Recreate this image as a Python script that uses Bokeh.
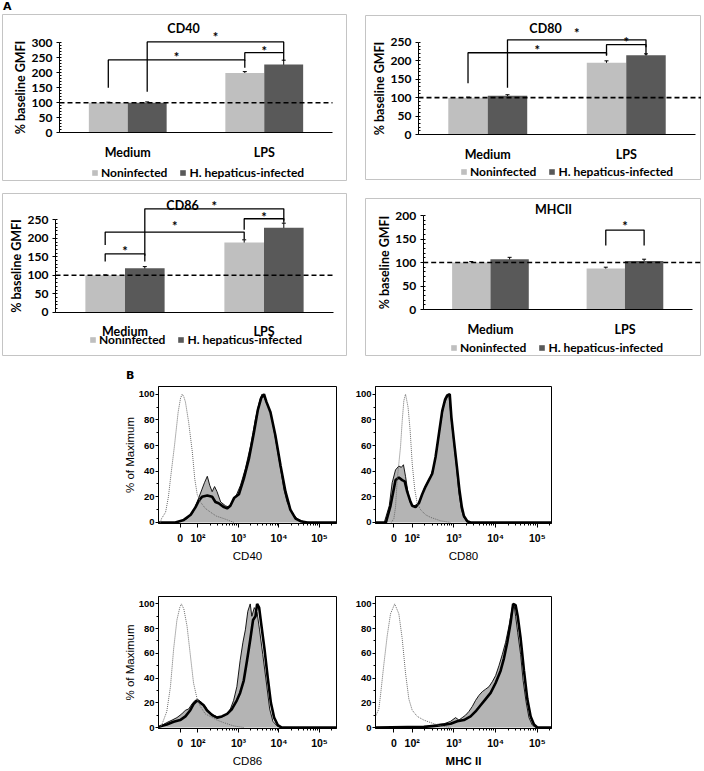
from bokeh.plotting import figure
from bokeh.models import (Range1d, LinearAxis, FixedTicker, Legend, LegendItem, Label,
                          Whisker, TeeHead, ColumnDataSource, Div, Spacer)
from bokeh.layouts import column, row
from bokeh.embed import file_html
from bokeh.resources import INLINE
from bokeh.core.properties import value
import math

# ---------------- Panel A data ----------------
GROUPS = ["Medium", "LPS"]
SERIES = ["Noninfected", "H. hepaticus-infected"]
BASELINE = 100

cd40_non = [100, 199]
cd40_inf = [100, 228]
cd40_non_err = [2, 5]
cd40_inf_err = [3, 14]

cd80_non = [100, 195]
cd80_inf = [105, 215]
cd80_non_err = [1.5, 5]
cd80_inf_err = [3, 4]

cd86_non = [100, 189]
cd86_inf = [119, 229]
cd86_non_err = [1, 7]
cd86_inf_err = [4.5, 12]

mhc_non = [100, 87]
mhc_inf = [107, 103]
mhc_non_err = [2, 3]
mhc_inf_err = [4, 4]

# significance brackets: (bar_from, bar_to, left_foot, top, right_foot, star_y)
# bar index: 0 Medium-non, 1 Medium-inf, 2 LPS-non, 3 LPS-inf
cd40_brackets = [(0, 2, 150, 243, 217, 263), (1, 3, 137, 303, 267, 330), (2, 3, 240, 267, 240, 284)]
cd80_brackets = [(0, 2, 139, 222, 214, 238), (1, 3, 127, 257, 237, 284), (2, 3, 216, 244, 216, 258)]
cd86_brackets = [(0, 1, 137, 158, 137, 174), (0, 2, 182, 217, 197, 242),
                 (1, 3, 153, 280, 248, 296), (2, 3, 223, 253, 242, 265)]
mhc_brackets = [(2, 3, 136, 169, 136, 185)]

# ---------------- Panel B data (x in display decades: 10^k at k, "0" at ZERO) ----------------
ZERO = 1.56
HIST_TICK_LABELS = ["0", "10\u00b2", "10\u00b3", "10\u2074", "10\u2075"]

cd40_iso_x = [1.07, 1.1, 1.2, 1.27, 1.32, 1.42, 1.51, 1.57, 1.61, 1.65, 1.69, 1.77, 1.86, 1.92, 1.98, 2.06, 2.18, 2.31, 2.45, 2.64, 2.89]
cd40_iso_y = [0, 3, 8, 20, 34, 60, 86, 97, 100, 98, 94, 78, 55, 34, 22, 16, 11, 8, 5, 3, 0]
cd40_non_x = [1.45, 1.53, 1.73, 1.86, 1.98, 2.1, 2.16, 2.23, 2.29, 2.35, 2.41, 2.47, 2.56, 2.68, 2.76, 2.84, 2.93, 3.05, 3.17, 3.3,
              3.42, 3.53, 3.58, 3.64, 3.71, 3.79, 3.87, 3.96, 4.04, 4.12, 4.2, 4.33, 4.45, 4.61, 4.75]
cd40_non_y = [0, 0.5, 3, 7, 16, 26, 31, 36, 29, 24, 28, 24, 16, 13, 12, 16, 20, 29, 42, 60,
              81, 96, 100, 97, 92, 86, 73, 57, 42, 26, 16, 7, 3, 0.5, 0]
cd40_inf_x = [1.44, 1.65, 1.82, 1.94, 2.02, 2.1, 2.23, 2.35, 2.43, 2.51, 2.64, 2.72, 2.8, 2.89, 3.01, 3.13, 3.26, 3.38, 3.48, 3.56,
              3.63, 3.69, 3.79, 3.91, 4.04, 4.16, 4.28, 4.41, 4.53, 4.7]
cd40_inf_y = [0, 2, 6, 12, 17, 20, 21, 20, 16, 15, 12, 11, 13, 19, 22, 34, 50, 70, 88, 97,
              100, 94, 86, 68, 44, 24, 10, 3, 1, 0]

cd80_iso_x = [1.5, 1.56, 1.6, 1.64, 1.72, 1.76, 1.8, 1.84, 1.9, 1.95, 2.0, 2.06, 2.12, 2.2, 2.32, 2.44, 2.68, 2.92]
cd80_iso_y = [0, 3, 12, 33, 59, 79, 95, 100, 90, 72, 46, 26, 15, 10, 6, 4, 1.3, 0]
cd80_non_x = [1.33, 1.45, 1.52, 1.6, 1.68, 1.74, 1.79, 1.84, 1.9, 1.96, 2.04, 2.12, 2.2, 2.28, 2.36, 2.44, 2.52, 2.6, 2.68, 2.76,
              2.83, 2.88, 2.94, 3.0, 3.07, 3.12, 3.18, 3.24, 3.32, 3.4]
cd80_non_y = [0, 13, 31, 41, 44, 43, 45, 36, 23, 15, 13, 14, 18, 26, 31, 36, 44, 59, 77, 92,
              97, 100, 79, 62, 41, 23, 10, 4, 0.5, 0]
cd80_inf_x = [1.37, 1.48, 1.6, 1.68, 1.76, 1.82, 1.88, 1.95, 2.0, 2.08, 2.16, 2.24, 2.32, 2.4, 2.48, 2.56, 2.64, 2.72, 2.79, 2.84,
              2.9, 2.94, 3.0, 3.07, 3.13, 3.19, 3.24, 3.32, 3.4]
cd80_inf_y = [0, 13, 33, 35, 33, 32, 24, 17, 13, 12, 15, 22, 28, 33, 38, 51, 69, 87, 96, 99,
              100, 82, 64, 44, 26, 12, 5, 1, 0]

cd86_iso_x = [1.06, 1.11, 1.23, 1.32, 1.4, 1.48, 1.55, 1.59, 1.65, 1.73, 1.81, 1.89, 1.98, 2.06, 2.18, 2.3, 2.47, 2.63, 2.88, 3.13]
cd86_iso_y = [0, 2.5, 13, 33, 64, 87, 97, 100, 96, 82, 59, 36, 23, 17, 11, 9, 6, 4, 1.3, 0]
cd86_non_x = [1.07, 1.23, 1.36, 1.48, 1.6, 1.69, 1.77, 1.85, 1.93, 2.02, 2.1, 2.18, 2.26, 2.39, 2.51, 2.63, 2.72, 2.8, 2.88, 2.96,
              3.04, 3.11, 3.17, 3.23, 3.29, 3.33, 3.39, 3.46, 3.52, 3.6, 3.69, 3.77, 3.85, 3.95, 4.03]
cd86_non_y = [1, 4, 6, 8, 11, 14, 15, 19, 22, 22, 20, 17, 13, 10, 8, 9, 11, 15, 22, 33,
              54, 69, 79, 94, 100, 90, 97, 93, 79, 59, 36, 15, 5, 1.3, 0]
cd86_inf_x = [1.07, 1.23, 1.4, 1.56, 1.69, 1.81, 1.89, 1.98, 2.06, 2.14, 2.22, 2.35, 2.47, 2.59, 2.72, 2.84, 2.96, 3.04, 3.13, 3.21,
              3.29, 3.36, 3.42, 3.46, 3.51, 3.56, 3.64, 3.72, 3.8, 3.88, 3.97, 4.07]
cd86_inf_y = [1, 2.5, 4.6, 6, 9, 14, 19, 22, 20, 18, 14, 10, 8, 9, 11, 15, 22, 28, 38, 54,
              71, 87, 90, 100, 97, 84, 64, 41, 20, 8, 2, 0]

mhc_iso_x = [1.12, 1.2, 1.24, 1.32, 1.4, 1.48, 1.58, 1.68, 1.76, 1.84, 1.92, 2.0, 2.12, 2.28, 2.44, 2.68, 2.92]
mhc_iso_y = [9, 15, 26, 51, 74, 92, 100, 92, 72, 44, 23, 14, 9, 6, 4, 1.3, 0]
mhc_non_x = [2.28, 2.44, 2.6, 2.76, 2.92, 3.04, 3.12, 3.2, 3.28, 3.36, 3.44, 3.52, 3.6, 3.68, 3.76, 3.84, 3.92, 4.0, 4.08, 4.16,
             4.24, 4.32, 4.4, 4.44, 4.48, 4.53, 4.6, 4.66, 4.73, 4.8, 4.88, 4.96]
mhc_non_y = [0.5, 1, 2.5, 3, 5, 8, 6, 8, 10, 13, 17, 22, 26, 29, 31, 33, 37, 42, 50, 59,
             69, 82, 97, 100, 90, 77, 59, 38, 21, 8, 2, 0]
mhc_inf_x = [2.28, 2.6, 2.92, 3.08, 3.24, 3.4, 3.52, 3.64, 3.76, 3.88, 4.0, 4.12, 4.2, 4.28, 4.36, 4.42, 4.48, 4.53, 4.6, 4.68,
             4.76, 4.84, 4.92, 5.0]
mhc_inf_y = [0.5, 1.5, 3, 5, 6, 9, 13, 18, 23, 28, 36, 46, 56, 69, 85, 100, 99, 90, 72, 46,
             23, 9, 2.5, 0]

# ---------------- styles ----------------
FONT_A = "Lato"
FONT_B = "Liberation Sans"
LIGHT = "#bfbfbf"
DARK = "#595959"
BOX = "#c4c4c4"
HISTGRAY = "#b4b4b4"
INK = "black"


def bar_panel(title, non, inf, non_err, inf_err, ymax, brackets,
              W, H, axis_px, plot_px, y0_px, ppu, title_px, legend_loc, dash_edge):
    ppx = plot_px / 2.0
    x0 = 0.5 - axis_px / ppx
    x1 = x0 + W / ppx
    y_hi = y0_px / ppu
    y_lo = -(H - y0_px) / ppu
    p = figure(width=W, height=H, x_range=Range1d(x0, x1), y_range=Range1d(y_lo, y_hi),
               min_border=0, title=None, toolbar_location=None, output_backend="svg",
               x_axis_location=None, y_axis_location=None)
    p.grid.visible = False
    p.outline_line_color = BOX
    p.outline_line_width = 1
    p.background_fill_color = "white"
    p.border_fill_color = "white"

    cats = [1, 2]
    bw = 0.285
    xn = [c - bw / 2 for c in cats]
    xi = [c + bw / 2 for c in cats]
    rn = p.vbar(x=xn, top=non, width=bw, fill_color=LIGHT, line_color=None)
    ri = p.vbar(x=xi, top=inf, width=bw, fill_color=DARK, line_color=None)

    dash_end = x1 if dash_edge else 2.5
    p.segment(x0=[0.5], y0=[BASELINE], x1=[dash_end], y1=[BASELINE],
              line_color=INK, line_width=1.6, line_dash="5 3")

    src = ColumnDataSource(dict(x=xn + xi,
                                up=[v + e for v, e in zip(non + inf, non_err + inf_err)],
                                lo=[v - e for v, e in zip(non + inf, non_err + inf_err)]))
    p.add_layout(Whisker(source=src, base="x", upper="up", lower="lo",
                         line_color=INK, line_width=1,
                         upper_head=TeeHead(size=4, line_width=1, line_color=INK),
                         lower_head=TeeHead(size=4, line_width=1, line_color=INK)))

    centers = [xn[0], xi[0], xn[1], xi[1]]
    xs, ys, sx, sy = [], [], [], []
    for i, j, lf, top, rf, star in brackets:
        xa, xb = centers[i], centers[j]
        xs.append([xa, xa, xb, xb])
        ys.append([lf, top, top, rf])
        sx.append((xa + xb) / 2)
        sy.append(star)
    p.multi_line(xs, ys, line_color=INK, line_width=1.3)
    p.text(sx, sy, text=["*"] * len(sx), text_align="center", text_baseline="middle",
           text_font=value(FONT_A), text_font_size="13px", text_font_style="bold",
           text_color=INK, y_offset=3)

    yaxis = LinearAxis(fixed_location=0.5, bounds=(0, ymax),
                       ticker=FixedTicker(ticks=list(range(0, ymax + 1, 50)),
                                          minor_ticks=list(range(0, ymax + 1, 10))),
                       axis_label="% baseline GMFI",
                       axis_label_text_font=FONT_A, axis_label_text_font_style="bold",
                       axis_label_text_font_size="12.5px", axis_label_standoff=1,
                       axis_label_text_color=INK,
                       major_label_text_font=FONT_A, major_label_text_font_style="bold",
                       major_label_text_font_size="12px", major_label_standoff=4,
                       major_label_text_color=INK,
                       major_tick_out=3, major_tick_in=0, minor_tick_out=0, minor_tick_in=2,
                       axis_line_color=INK, major_tick_line_color=INK,
                       minor_tick_line_color=INK)
    p.add_layout(yaxis, "left")
    xaxis = LinearAxis(fixed_location=0, bounds=(0.5, 2.5),
                       ticker=FixedTicker(ticks=cats, minor_ticks=[]),
                       major_label_overrides={1: GROUPS[0], 2: GROUPS[1]},
                       major_label_text_font=FONT_A, major_label_text_font_style="bold",
                       major_label_text_font_size="12.5px", major_label_standoff=12,
                       major_label_text_color=INK,
                       major_tick_out=0, major_tick_in=0, minor_tick_out=0, minor_tick_in=0,
                       axis_line_color=INK)
    p.add_layout(xaxis, "below")

    p.add_layout(Label(x=x0 + title_px[0] / ppx, y=(y0_px - title_px[1]) / ppu,
                       text=title, text_align="center", text_baseline="middle",
                       text_font=FONT_A, text_font_style="bold", text_font_size="12.5px",
                       text_color=INK))

    leg = Legend(items=[LegendItem(label=SERIES[0], renderers=[rn]),
                        LegendItem(label=SERIES[1], renderers=[ri])],
                 location=legend_loc, orientation="horizontal",
                 glyph_width=7, glyph_height=7, label_standoff=3, spacing=12,
                 padding=0, margin=0, border_line_color=None, background_fill_alpha=0,
                 label_text_font=FONT_A, label_text_font_style="bold",
                 label_text_font_size="12px", label_text_color=INK,
                 label_height=12, label_width=10)
    p.add_layout(leg)
    return p


def hist_panel(label, iso, non, inf, W, H, left, right, top, bottom, xr, ylabel, bold_label=False):
    p = figure(width=W, height=H, x_range=Range1d(*xr), y_range=Range1d(-0.8, 106),
               min_border_left=left, min_border_right=right, min_border_top=top,
               min_border_bottom=bottom, title=None, toolbar_location=None,
               output_backend="svg")
    p.grid.visible = False
    p.outline_line_color = INK
    p.outline_line_width = 1
    p.background_fill_color = "white"
    p.border_fill_color = "white"

    nx, ny = non
    p.varea(x=nx, y1=[0] * len(nx), y2=ny, fill_color=HISTGRAY)
    p.line(nx, ny, line_color=INK, line_width=0.9)
    ix, iy = inf
    p.line([xr[0]] + ix + [xr[1]], [0] + iy + [0], line_color=INK, line_width=2.6)
    dx, dy = iso
    p.line(dx, dy, line_color="#6a6a6a", line_width=1, line_dash="1 1")

    majors = [ZERO, 2, 3, 4, 5]
    minors = [n + math.log10(k) for n in (2, 3, 4, 5) for k in range(2, 10)
              if xr[0] < n + math.log10(k) < xr[1]]
    p.xaxis.ticker = FixedTicker(ticks=majors, minor_ticks=minors)
    p.xaxis.major_label_overrides = dict(zip(majors, HIST_TICK_LABELS))
    p.yaxis.ticker = FixedTicker(ticks=[0, 20, 40, 60, 80, 100], minor_ticks=[10, 30, 50, 70, 90])
    for ax in (p.xaxis[0], p.yaxis[0]):
        ax.major_label_text_font = FONT_B
        ax.major_label_text_font_style = "bold"
        ax.major_label_text_color = INK
        ax.major_tick_in = 0
        ax.minor_tick_in = 0
        ax.minor_tick_out = 2
        ax.axis_line_color = INK
        ax.major_tick_line_color = INK
        ax.minor_tick_line_color = INK
        ax.axis_label_text_font = FONT_B
        ax.axis_label_text_font_style = "normal"
        ax.axis_label_text_font_size = "11.5px"
        ax.axis_label_text_color = INK
    p.xaxis.major_label_text_font_size = "10.5px"
    p.yaxis.major_label_text_font_size = "9.5px"
    p.xaxis.major_tick_out = 4
    p.yaxis.major_tick_out = 3
    p.xaxis.major_label_standoff = 4
    p.yaxis.major_label_standoff = 1
    p.xaxis.axis_label = label
    p.xaxis.axis_label_standoff = 3
    if bold_label:
        p.xaxis.axis_label_text_font_style = "bold"
    if ylabel:
        p.yaxis.axis_label = ylabel
        p.yaxis.axis_label_standoff = 0
    return p


p40 = bar_panel("CD40", cd40_non, cd40_inf, cd40_non_err, cd40_inf_err, 300, cd40_brackets,
                345, 167, 57, 273, 118.3, 0.3, (181, 14), (89, 1), False)
p80 = bar_panel("CD80", cd80_non, cd80_inf, cd80_non_err, cd80_inf_err, 250, cd80_brackets,
                336, 165, 53, 277, 119, 0.3683, (180, 13), (95, 1), True)
p86 = bar_panel("CD86", cd86_non, cd86_inf, cd86_non_err, cd86_inf_err, 250, cd86_brackets,
                345, 163, 53, 278, 118.7, 0.3693, (180, 12), (87, 9), False)
pmhc = bar_panel("MHCII", mhc_non, mhc_inf, mhc_non_err, mhc_inf_err, 200, mhc_brackets,
                 336, 158, 57.7, 269, 111, 0.47, (188, 11), (85, 1), True)

XR_LEFT = (1.025, 5.42)
XR_RIGHT = (1.12, 5.34)
h40 = hist_panel("CD40", (cd40_iso_x, cd40_iso_y), (cd40_non_x, cd40_non_y), (cd40_inf_x, cd40_inf_y),
                 245, 182, 58, 9, 4, 41, XR_LEFT, "% of Maximum")
h80 = hist_panel("CD80", (cd80_iso_x, cd80_iso_y), (cd80_non_x, cd80_non_y), (cd80_inf_x, cd80_inf_y),
                 220, 182, 30, 14, 4, 41, XR_RIGHT, None)
h86 = hist_panel("CD86", (cd86_iso_x, cd86_iso_y), (cd86_non_x, cd86_non_y), (cd86_inf_x, cd86_inf_y),
                 245, 178, 58, 9, 5, 37, XR_LEFT, "% of Maximum")
hmhc = hist_panel("MHC II", (mhc_iso_x, mhc_iso_y), (mhc_non_x, mhc_non_y), (mhc_inf_x, mhc_inf_y),
                  220, 178, 30, 14, 5, 37, XR_RIGHT, None, bold_label=True)


def letter(txt, w, h):
    return Div(text=txt, width=w, height=h, margin=0,
               styles={"font-family": "DejaVu Sans", "font-weight": "bold",
                       "font-size": "11px", "line-height": f"{h}px", "color": "black"})


layout = column(
    row(Spacer(width=3, height=14), letter("A", 30, 14)),
    row(Spacer(width=2, height=167), p40, Spacer(width=18, height=167),
        column(Spacer(width=336, height=1), p80)),
    Spacer(width=700, height=12),
    row(Spacer(width=2, height=163), p86, Spacer(width=18, height=163),
        column(Spacer(width=336, height=5), pmhc)),
    Spacer(width=700, height=13),
    row(Spacer(width=126, height=13), letter("B", 30, 13)),
    row(Spacer(width=100, height=182), h40, h80),
    Spacer(width=700, height=27),
    row(Spacer(width=100, height=178), h86, hmhc),
)

open("out.html", "w").write(file_html(layout, INLINE))
